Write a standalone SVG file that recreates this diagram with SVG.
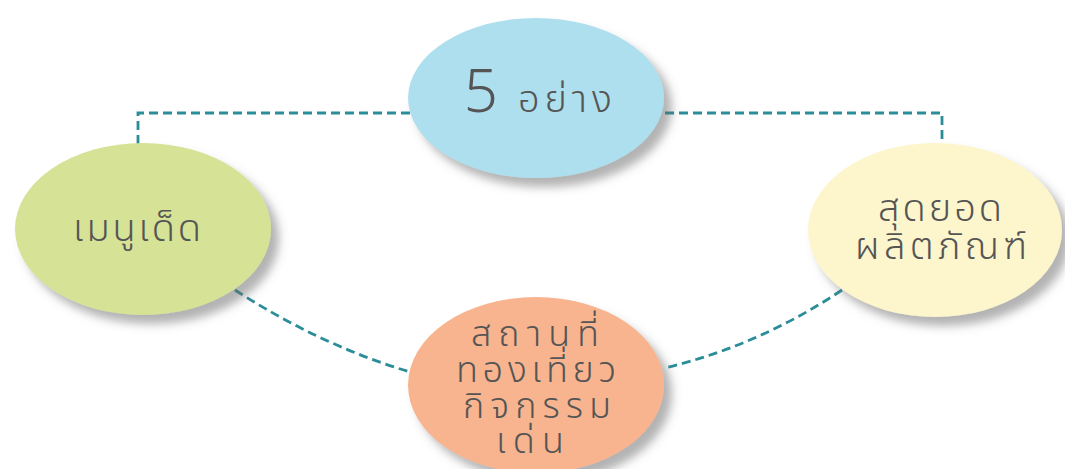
<svg xmlns="http://www.w3.org/2000/svg" width="1065" height="469" viewBox="0 0 1065 469">
<style>
.lbl{font-family:"Noto Sans Thai","Noto Sans","DejaVu Sans",sans-serif;fill:#555;text-anchor:middle;font-weight:300}
.conn{fill:none;stroke:#2a8d98;stroke-width:2.8;stroke-dasharray:9 5}
</style>
<defs>
<filter id="sh" x="-20%" y="-20%" width="150%" height="150%">
<feDropShadow dx="8" dy="9" stdDeviation="5" flood-color="#666" flood-opacity="0.5"/>
</filter>
</defs>
<rect width="1065" height="469" fill="#fff"/>
<g id="connectors">
<path class="conn" d="M410 113 H138 V145"/>
<path class="conn" d="M665 113 H942 V145"/>
<path class="conn" d="M235 290 Q320 345 410 372"/>
<path class="conn" d="M842 290 Q760 345 665 368"/>
</g>
<g id="node-top">
<ellipse cx="536" cy="98" rx="128" ry="80" fill="#aedfee" filter="url(#sh)"/>
<text class="lbl" x="481" y="112" font-size="60">5</text>
<text class="lbl" x="565" y="112" font-size="38" textLength="94" lengthAdjust="spacing">อย่าง</text>
</g>
<g id="node-left">
<ellipse cx="143" cy="229" rx="128" ry="86" fill="#d6e295" filter="url(#sh)"/>
<text class="lbl" x="137" y="241" font-size="38" textLength="128" lengthAdjust="spacing">เมนูเด็ด</text>
</g>
<g id="node-right">
<ellipse cx="935" cy="230" rx="127" ry="87" fill="#fdf5cc" filter="url(#sh)"/>
<text class="lbl" x="940" y="221" font-size="38" textLength="124" lengthAdjust="spacing">สุดยอด</text>
<text class="lbl" x="941" y="259" font-size="38" textLength="172" lengthAdjust="spacing">ผลิตภัณฑ์</text>
</g>
<g id="node-bottom">
<ellipse cx="536" cy="385" rx="128" ry="88" fill="#f7b48f" filter="url(#sh)"/>
<text class="lbl" x="535" y="346" font-size="36" textLength="128" lengthAdjust="spacing">สถานที่</text>
<text class="lbl" x="536" y="382" font-size="36" textLength="160" lengthAdjust="spacing">ทองเที่ยว</text>
<text class="lbl" x="537" y="418" font-size="36" textLength="148" lengthAdjust="spacing">กิจกรรม</text>
<text class="lbl" x="530" y="453" font-size="36" textLength="68" lengthAdjust="spacing">เด่น</text>
</g>
</svg>
